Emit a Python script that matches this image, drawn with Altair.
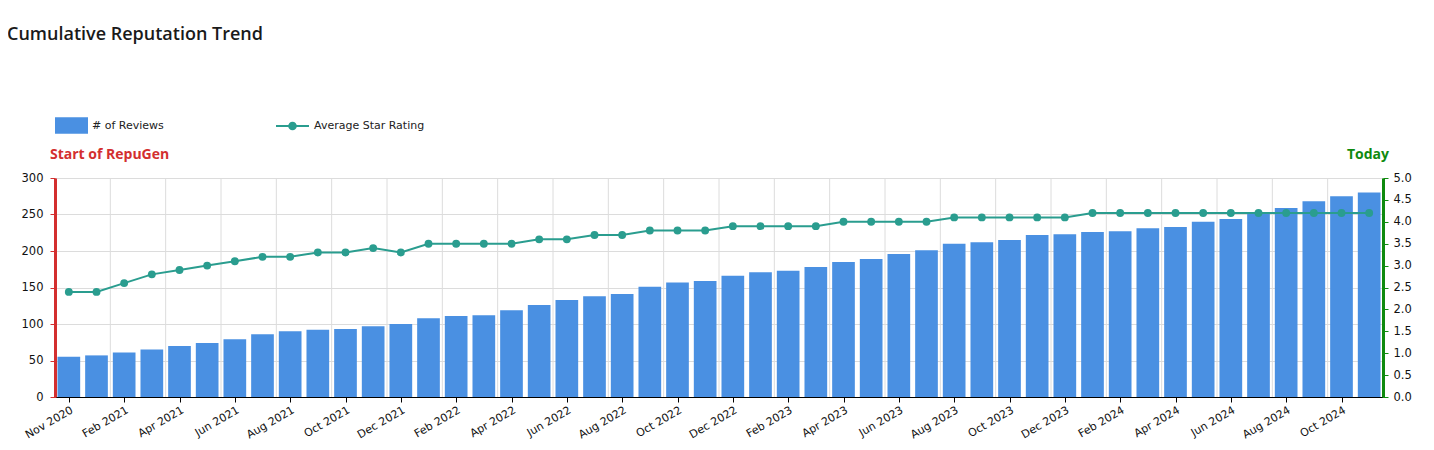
import json
import altair as alt
import pandas as pd

months = [
    "Dec 2020", "Jan 2021", "Feb 2021", "Mar 2021", "Apr 2021", "May 2021", "Jun 2021", "Jul 2021",
    "Aug 2021", "Sep 2021", "Oct 2021", "Nov 2021", "Dec 2021", "Jan 2022", "Feb 2022", "Mar 2022",
    "Apr 2022", "May 2022", "Jun 2022", "Jul 2022", "Aug 2022", "Sep 2022", "Oct 2022", "Nov 2022",
    "Dec 2022", "Jan 2023", "Feb 2023", "Mar 2023", "Apr 2023", "May 2023", "Jun 2023", "Jul 2023",
    "Aug 2023", "Sep 2023", "Oct 2023", "Nov 2023", "Dec 2023", "Jan 2024", "Feb 2024", "Mar 2024",
    "Apr 2024", "May 2024", "Jun 2024", "Jul 2024", "Aug 2024", "Sep 2024", "Oct 2024", "Nov 2024",
]
reviews = [55, 57, 61, 65, 70, 74, 79, 86, 90, 92,
           93, 97, 100, 108, 111, 112, 119, 126, 133, 138,
           141, 151, 157, 159, 166, 171, 173, 178, 185, 189,
           196, 201, 210, 212, 215, 222, 223, 226, 227, 231,
           233, 240, 244, 251, 259, 268, 275, 280]
ratings = [2.4, 2.4, 2.6, 2.8, 2.9, 3.0, 3.1, 3.2, 3.2, 3.3,
           3.3, 3.4, 3.3, 3.5, 3.5, 3.5, 3.5, 3.6, 3.6, 3.7,
           3.7, 3.8, 3.8, 3.8, 3.9, 3.9, 3.9, 3.9, 4.0, 4.0,
           4.0, 4.0, 4.1, 4.1, 4.1, 4.1, 4.1, 4.2, 4.2, 4.2,
           4.2, 4.2, 4.2, 4.2, 4.2, 4.2, 4.2, 4.2]
tick_labels = ["Nov 2020", "Feb 2021", "Apr 2021", "Jun 2021", "Aug 2021", "Oct 2021",
               "Dec 2021", "Feb 2022", "Apr 2022", "Jun 2022", "Aug 2022", "Oct 2022",
               "Dec 2022", "Feb 2023", "Apr 2023", "Jun 2023", "Aug 2023", "Oct 2023",
               "Dec 2023", "Feb 2024", "Apr 2024", "Jun 2024", "Aug 2024", "Oct 2024"]
series_names = ["# of Reviews", "Average Star Rating"]
annotations = ["Start of RepuGen", "Today"]

BLUE = "#4a90e2"
TEAL = "#2a9d8f"
RED = "#d32f2f"
GREEN = "#0f8a0f"
FONT = "DejaVu Sans"

df = pd.DataFrame({"idx": list(range(len(months))), "month": months,
                   "reviews": reviews, "rating": ratings})
n = len(months)

xscale = alt.Scale(domain=[-0.5, n - 0.5], nice=False, zero=False)
xaxis = alt.Axis(
    values=list(range(0, n - 1, 2)),
    labelExpr=json.dumps(tick_labels) + "[round(datum.value / 2)]",
    grid=False, title=None, labelAngle=330, labelAlign="right", labelBaseline="top",
    labelFont=FONT, labelFontSize=11, labelColor="#111", labelPadding=2,
    domainColor="#000", domainWidth=1, tickColor="#000", tickSize=5,
)
left_axis = alt.Axis(
    values=[0, 50, 100, 150, 200, 250, 300], title=None, grid=True, gridColor="#dcdcdc",
    labelFont=FONT, labelFontSize=11.5, labelColor="#111", labelPadding=7,
    domainColor=RED, domainWidth=3, tickColor=RED, tickSize=5, tickWidth=1,
)
right_axis = alt.Axis(
    orient="right", values=[0, 0.5, 1, 1.5, 2, 2.5, 3, 3.5, 4, 4.5, 5], format=".1f",
    title=None, grid=False, labelFont=FONT, labelFontSize=11.5, labelColor="#111", labelPadding=5,
    domainColor=GREEN, domainWidth=3, tickColor=GREEN, tickSize=5, tickWidth=1,
)

base = alt.Chart(df)

vgrid = base.transform_filter(
    f"datum.idx % 2 == 1 && datum.idx < {n - 2}"
).transform_calculate(gx="datum.idx + 0.5").mark_rule(
    color="#dcdcdc", strokeWidth=1
).encode(x=alt.X("gx:Q", scale=xscale, axis=xaxis))

bars = base.transform_calculate(
    x0="datum.idx - 0.41", x1="datum.idx + 0.41", zero="0", series=f"'{series_names[0]}'"
).mark_bar(opacity=1).encode(
    x=alt.X("x0:Q", scale=xscale, axis=xaxis),
    x2="x1:Q",
    y=alt.Y("reviews:Q", scale=alt.Scale(domain=[0, 300], nice=False), axis=left_axis),
    y2="zero:Q",
    color=alt.Color("series:N", title=None,
                    scale=alt.Scale(domain=[series_names[0]], range=[BLUE]),
                    legend=alt.Legend(orient="none", legendX=0, legendY=-69, padding=0,
                                      symbolType="M-1,-0.5H1V0.5H-1Z", symbolSize=1089,
                                      symbolStrokeWidth=0, symbolOpacity=1,
                                      labelFont=FONT, labelFontSize=11, labelColor="#222",
                                      labelOffset=4)),
)

ann_df = pd.DataFrame({"label": annotations, "idx": [0, n - 1]})
start_txt = alt.Chart(ann_df).transform_filter("datum.idx == 0").transform_calculate(
    ax="datum.idx - 0.5").mark_text(
    align="left", baseline="middle", dx=-5, font="Open Sans", fontSize=14,
    fontWeight="bold", color=RED
).encode(x=alt.X("ax:Q", scale=xscale, axis=xaxis), y=alt.value(-23), text="label:N")
today_txt = alt.Chart(ann_df).transform_filter(f"datum.idx == {n - 1}").transform_calculate(
    ax="datum.idx + 0.5").mark_text(
    align="right", baseline="middle", dx=6, font="Open Sans", fontSize=14,
    fontWeight="bold", color=GREEN
).encode(x=alt.X("ax:Q", scale=xscale, axis=xaxis), y=alt.value(-23), text="label:N")

left = alt.layer(vgrid, bars, start_txt, today_txt)

yr = alt.Y("rating:Q", scale=alt.Scale(domain=[0, 5], nice=False), axis=right_axis)
line = base.mark_line(color=TEAL, strokeWidth=2).encode(
    x=alt.X("idx:Q", scale=xscale, axis=xaxis), y=yr)
points = base.transform_calculate(series=f"'{series_names[1]}'").mark_point(
    filled=True, size=62, opacity=1).encode(
    x=alt.X("idx:Q", scale=xscale, axis=xaxis), y=yr,
    color=alt.Color("series:N", title=None,
                    scale=alt.Scale(domain=[series_names[1]], range=[TEAL]),
                    legend=alt.Legend(orient="none", legendX=220, legendY=-69.5, padding=0,
                                      symbolType="M-1,0H1M-0.2,0A0.2,0.2 0 1,1 0.2,0A0.2,0.2 0 1,1 -0.2,0Z",
                                      symbolSize=1089, symbolStrokeColor=TEAL,
                                      symbolFillColor=TEAL, symbolStrokeWidth=2, symbolOpacity=1,
                                      labelFont=FONT, labelFontSize=11, labelColor="#222",
                                      labelOffset=4)),
)
right = alt.layer(line, points)

chart = alt.layer(left, right).resolve_scale(
    y="independent", color="independent"
).resolve_legend(color="independent").properties(
    width=1328, height=219,
    title=alt.TitleParams("Cumulative Reputation Trend", anchor="start", frame="group",
                          dx=-48, offset=65, font="Open Sans", fontSize=18,
                          fontWeight=600, color="#1a1a1a"),
    autosize=alt.AutoSizeParams(type="none"),
    padding={"left": 47, "top": 170, "right": 43, "bottom": 45},
).configure_view(stroke=None).configure(background="white")

chart.save("out.html", embed_options={"renderer": "svg", "actions": False})
